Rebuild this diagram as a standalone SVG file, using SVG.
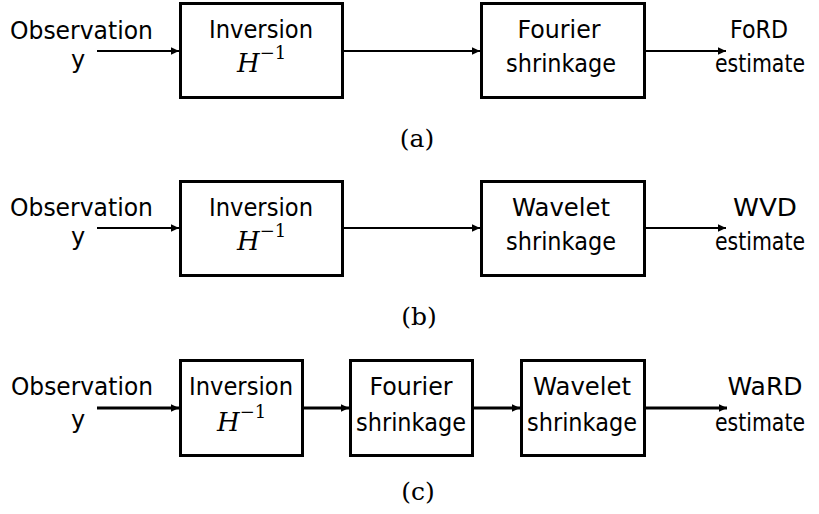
<svg xmlns="http://www.w3.org/2000/svg" width="819" height="514" viewBox="0 0 819 514">
<style>
.box{fill:#fff;stroke:#000;stroke-width:3}
.t{font-family:"DejaVu Sans","Liberation Sans",sans-serif;font-size:24px;fill:#000;text-anchor:middle}
.tl{font-family:"DejaVu Sans","Liberation Sans",sans-serif;font-size:24px;fill:#000}
.m{font-family:"DejaVu Serif","Liberation Serif",serif;font-size:26px;font-style:italic;fill:#000}
.sup{font-family:"DejaVu Serif","Liberation Serif",serif;font-size:18px;font-style:normal;fill:#000}
.cap{font-family:"DejaVu Serif","Liberation Serif",serif;font-size:25px;fill:#000;text-anchor:middle}
.a2{stroke:#000;stroke-width:2;fill:none;marker-end:url(#ah)}
.a3{stroke:#000;stroke-width:3;fill:none;marker-end:url(#ah)}
</style>
<defs>
<marker id="ah" markerUnits="userSpaceOnUse" markerWidth="9" markerHeight="8" refX="8" refY="4" orient="auto">
<path d="M0,0.3 L8,4 L0,7.7 z" fill="#000"/>
</marker>
</defs>

<!-- Row (a) -->
<g id="a-in">
<text class="tl" x="10" y="39" textLength="143" lengthAdjust="spacingAndGlyphs">Observation</text>
<text class="t" x="78" y="68">y</text>
</g>
<g id="a-inv">
<rect class="box" x="180.5" y="3.5" width="162" height="94"/>
<text class="t" x="261" y="38" textLength="104" lengthAdjust="spacingAndGlyphs">Inversion</text>
<text class="m" x="237" y="72">H<tspan class="sup" dy="-13">−1</tspan></text>
</g>
<g id="a-four">
<rect class="box" x="481.5" y="3.5" width="163" height="94"/>
<text class="t" x="559" y="38" textLength="83" lengthAdjust="spacingAndGlyphs">Fourier</text>
<text class="t" x="561" y="72" textLength="110" lengthAdjust="spacingAndGlyphs">shrinkage</text>
</g>
<g id="a-out">
<text class="t" x="759" y="38" textLength="58" lengthAdjust="spacingAndGlyphs">FoRD</text>
<text class="t" x="760" y="72" textLength="90" lengthAdjust="spacingAndGlyphs">estimate</text>
</g>
<text class="cap" x="417" y="147">(a)</text>

<!-- Row (b) -->
<g id="b-in">
<text class="tl" x="10" y="216" textLength="143" lengthAdjust="spacingAndGlyphs">Observation</text>
<text class="t" x="78" y="245">y</text>
</g>
<g id="b-inv">
<rect class="box" x="180.5" y="181.5" width="162" height="94"/>
<text class="t" x="261" y="216" textLength="104" lengthAdjust="spacingAndGlyphs">Inversion</text>
<text class="m" x="237" y="250">H<tspan class="sup" dy="-13">−1</tspan></text>
</g>
<g id="b-wav">
<rect class="box" x="481.5" y="181.5" width="163" height="94"/>
<text class="t" x="561" y="216" textLength="98" lengthAdjust="spacingAndGlyphs">Wavelet</text>
<text class="t" x="561" y="250" textLength="110" lengthAdjust="spacingAndGlyphs">shrinkage</text>
</g>
<g id="b-out">
<text class="t" x="765" y="216" textLength="64" lengthAdjust="spacingAndGlyphs">WVD</text>
<text class="t" x="760" y="250" textLength="90" lengthAdjust="spacingAndGlyphs">estimate</text>
</g>
<text class="cap" x="419" y="325">(b)</text>

<!-- Row (c) -->
<g id="c-in">
<text class="tl" x="11" y="395" textLength="142" lengthAdjust="spacingAndGlyphs">Observation</text>
<text class="t" x="78" y="428">y</text>
</g>
<g id="c-inv">
<rect class="box" x="180.5" y="360.5" width="122" height="95"/>
<text class="t" x="241" y="395" textLength="104" lengthAdjust="spacingAndGlyphs">Inversion</text>
<text class="m" x="217" y="431">H<tspan class="sup" dy="-13">−1</tspan></text>
</g>
<g id="c-four">
<rect class="box" x="350.5" y="360.5" width="122" height="95"/>
<text class="t" x="411" y="395" textLength="83" lengthAdjust="spacingAndGlyphs">Fourier</text>
<text class="t" x="411" y="431" textLength="110" lengthAdjust="spacingAndGlyphs">shrinkage</text>
</g>
<g id="c-wav">
<rect class="box" x="521.5" y="360.5" width="123" height="95"/>
<text class="t" x="582" y="395" textLength="98" lengthAdjust="spacingAndGlyphs">Wavelet</text>
<text class="t" x="582" y="431" textLength="110" lengthAdjust="spacingAndGlyphs">shrinkage</text>
</g>
<g id="c-out">
<text class="t" x="765" y="395" textLength="75" lengthAdjust="spacingAndGlyphs">WaRD</text>
<text class="t" x="760" y="431" textLength="90" lengthAdjust="spacingAndGlyphs">estimate</text>
</g>
<text class="cap" x="418" y="500">(c)</text>

<g id="connectors">
<line class="a2" x1="97" y1="51" x2="179" y2="51"/>
<line class="a2" x1="344" y1="51" x2="480" y2="51"/>
<line class="a2" x1="646" y1="51" x2="726" y2="51"/>
<line class="a2" x1="97" y1="228" x2="179" y2="228"/>
<line class="a2" x1="344" y1="228" x2="480" y2="228"/>
<line class="a2" x1="646" y1="228" x2="726" y2="228"/>
<line class="a3" x1="97" y1="408" x2="179" y2="408"/>
<line class="a3" x1="304" y1="408" x2="349" y2="408"/>
<line class="a3" x1="474" y1="408" x2="520" y2="408"/>
<line class="a3" x1="646" y1="408" x2="727" y2="408"/>
</g>
</svg>
